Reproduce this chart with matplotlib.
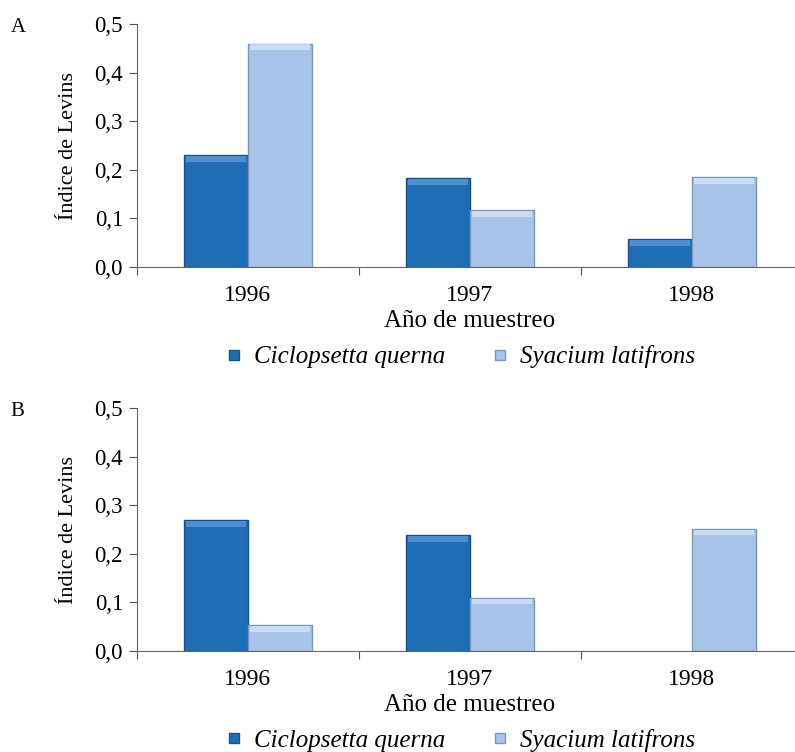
import matplotlib.pyplot as plt
from matplotlib.lines import Line2D
import numpy as np

plt.rcParams['font.family'] = ['Liberation Serif', 'DejaVu Serif']

years = ['1996', '1997', '1998']
ciclopsetta_a = [0.23, 0.183, 0.057]
syacium_a = [0.46, 0.117, 0.185]
ciclopsetta_b = [0.27, 0.239, 0.0]
syacium_b = [0.054, 0.11, 0.252]
yticks = [0.0, 0.1, 0.2, 0.3, 0.4, 0.5]
ytick_labels = ['0,0', '0,1', '0,2', '0,3', '0,4', '0,5']

dark = '#1f6db5'
dark_edge = '#17528c'
dark_hi = '#5a9ad6'
light = '#a8c3e8'
light_edge = '#7f96bb'
light_hi = '#d3e3f6'

fig = plt.figure(figsize=(7.95, 7.52), dpi=100)

def draw_bars(ax, pos, vals, w, col, edge, hi):
    vals = np.array(vals, dtype=float)
    vals[vals == 0] = np.nan  # no bar drawn for zero
    ax.bar(pos, vals, w, color=col, edgecolor=edge, linewidth=1)
    # light bevel on top of each bar
    band = 0.012
    ax.bar(pos, np.full_like(vals, band), w - 0.02, bottom=vals - band - 0.002,
           color=hi, linewidth=0, alpha=0.8)

def panel(rect, c_vals, s_vals, letter, leg_y):
    ax = fig.add_axes(rect)
    x = np.arange(len(years))
    w = 0.288
    draw_bars(ax, x - w / 2, c_vals, w, dark, dark_edge, dark_hi)
    draw_bars(ax, x + w / 2, s_vals, w, light, light_edge, light_hi)
    ax.set_xlim(-0.5, 2.5)
    ax.set_ylim(0, 0.5)
    ax.set_yticks(yticks)
    ax.set_yticklabels(ytick_labels, fontsize=16.5)
    ax.set_xticks([-0.5, 0.5, 1.5, 2.5])
    ax.set_xticklabels([])
    ax.set_xticks(x, minor=True)
    ax.set_xticklabels(years, minor=True, fontsize=17)
    ax.tick_params(axis='x', which='minor', length=0, pad=13)
    ax.tick_params(axis='x', which='major', length=6, color='#555555', direction='out')
    ax.tick_params(axis='y', length=6, color='#555555', direction='out', pad=4)
    for s in ['top', 'right']:
        ax.spines[s].set_visible(False)
    ax.spines['left'].set_color('#666666')
    ax.spines['bottom'].set_color('#666666')
    ax.set_ylabel('Índice de Levins', fontsize=16, labelpad=12)
    ax.set_xlabel('Año de muestreo', fontsize=18, labelpad=3)
    fig.text(0.013, rect[1] + rect[3] - 0.004, letter, fontsize=15, va='center')
    handles = [
        Line2D([], [], marker='s', linestyle='none', markersize=7,
               markerfacecolor=dark, markeredgecolor=dark_edge),
        Line2D([], [], marker='s', linestyle='none', markersize=7,
               markerfacecolor=light, markeredgecolor=light_edge),
    ]
    fig.legend(handles, ['Ciclopsetta querna', 'Syacium latifrons'],
               loc='center', bbox_to_anchor=(461 / 795, leg_y), ncol=2, frameon=False,
               prop={'style': 'italic', 'size': 18}, handlelength=0.6,
               handletextpad=0.5, columnspacing=1.9)
    return ax

panel([0.1723, 0.6449, 0.8377, 0.3231], ciclopsetta_a, syacium_a, 'A', 1 - 357 / 752)
panel([0.1723, 0.1343, 0.8377, 0.3231], ciclopsetta_b, syacium_b, 'B', 1 - 740 / 752)

fig.savefig('out.png', dpi=100)
